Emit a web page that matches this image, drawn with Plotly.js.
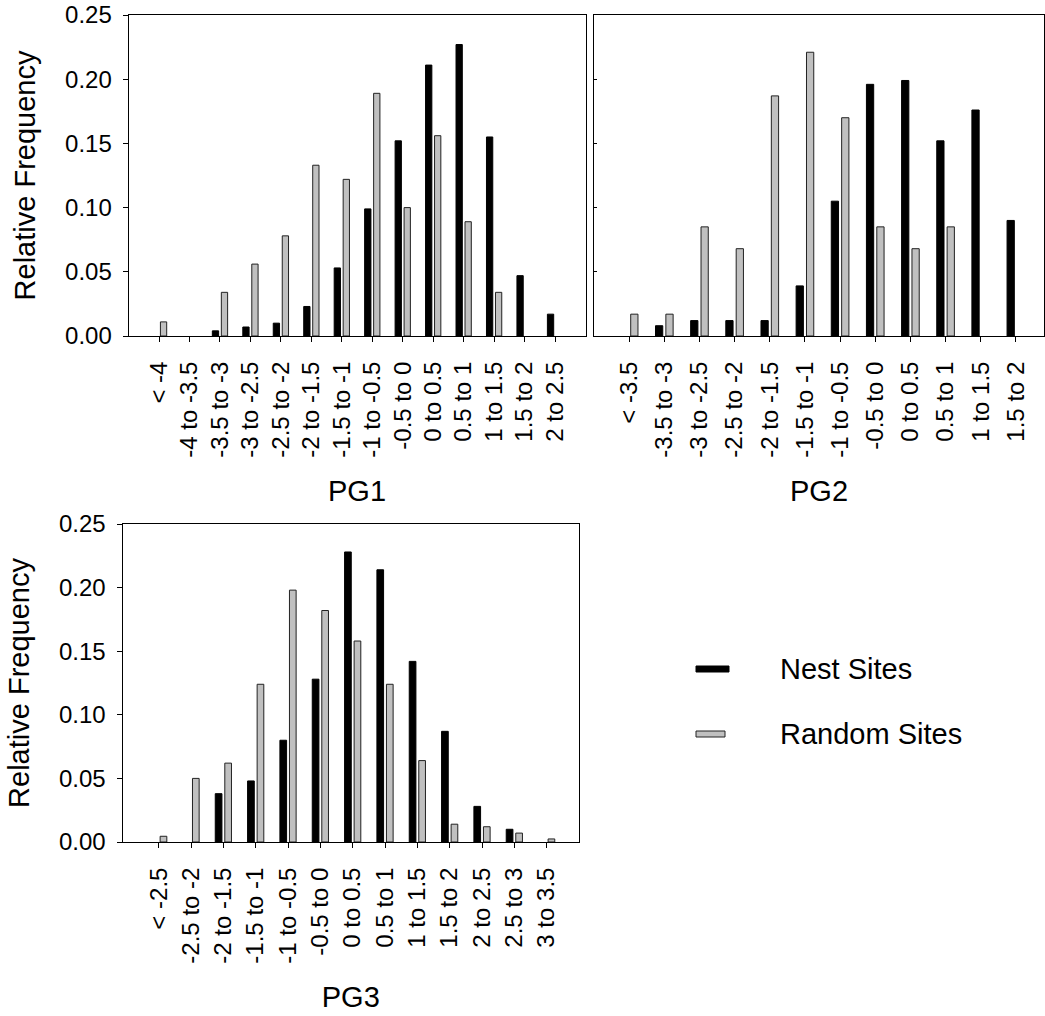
<!DOCTYPE html>
<html>
<head>
<meta charset="utf-8">
<script src="https://cdn.plot.ly/plotly-3.0.1.min.js"></script>
<style>
  html, body { margin: 0; padding: 0; background: #ffffff; }
  #chart { width: 1045px; height: 1016px; }
</style>
</head>
<body>
<div id="chart"></div>
<script>
// ---- data ----
const seriesNames = ['Nest Sites', 'Random Sites'];

const pg1Cats = ['< -4', '-4 to -3.5', '-3.5 to -3', '-3 to -2.5', '-2.5 to -2', '-2 to -1.5', '-1.5 to -1',
                 '-1 to -0.5', '-0.5 to 0', '0 to 0.5', '0.5 to 1', '1 to 1.5', '1.5 to 2', '2 to 2.5'];
const pg1Nest   = [0, 0, 0.004, 0.007, 0.010, 0.023, 0.053, 0.099, 0.152, 0.211, 0.227, 0.155, 0.047, 0.017];
const pg1Random = [0.011, 0, 0.034, 0.056, 0.078, 0.133, 0.122, 0.189, 0.100, 0.156, 0.089, 0.034, 0, 0];

const pg2Cats = ['< -3.5', '-3.5 to -3', '-3 to -2.5', '-2.5 to -2', '-2 to -1.5', '-1.5 to -1',
                 '-1 to -0.5', '-0.5 to 0', '0 to 0.5', '0.5 to 1', '1 to 1.5', '1.5 to 2'];
const pg2Nest   = [0, 0.008, 0.012, 0.012, 0.012, 0.039, 0.105, 0.196, 0.199, 0.152, 0.176, 0.090];
const pg2Random = [0.017, 0.017, 0.085, 0.068, 0.187, 0.221, 0.170, 0.085, 0.068, 0.085, 0, 0];

const pg3Cats = ['< -2.5', '-2.5 to -2', '-2 to -1.5', '-1.5 to -1', '-1 to -0.5', '-0.5 to 0', '0 to 0.5',
                 '0.5 to 1', '1 to 1.5', '1.5 to 2', '2 to 2.5', '2.5 to 3', '3 to 3.5'];
const pg3Nest   = [0, 0, 0.038, 0.048, 0.080, 0.128, 0.228, 0.214, 0.142, 0.087, 0.028, 0.010, 0];
const pg3Random = [0.0045, 0.050, 0.062, 0.124, 0.198, 0.182, 0.158, 0.124, 0.064, 0.014, 0.012, 0.007, 0.0024];

const panelTitles = ['PG1', 'PG2', 'PG3'];
const yTitle = 'Relative Frequency';

// ---- styling ----
const W = 1045, H = 1016;
const FONT = 'Arial, "Liberation Sans", Helvetica, sans-serif';
const NEST_COLOR = '#000000';
const RAND_COLOR = '#c0c0c0';
const px = v => v / W;
const py = v => 1 - v / H;

// no outline on empty bins (nothing is drawn there in the original)
const outline = vals => vals.map(v => (v > 0 ? 1 : 0));

function barPair(cats, nest, rand, xa, ya) {
  return [
    { type: 'bar', x: cats, y: nest, name: seriesNames[0], xaxis: xa, yaxis: ya, showlegend: false,
      marker: { color: NEST_COLOR, line: { color: '#000000', width: outline(nest) } }, hoverinfo: 'x+y' },
    { type: 'bar', x: cats, y: rand, name: seriesNames[1], xaxis: xa, yaxis: ya, showlegend: false,
      marker: { color: RAND_COLOR, line: { color: '#222222', width: outline(rand) } }, hoverinfo: 'x+y' }
  ];
}

const traces = [].concat(
  barPair(pg1Cats, pg1Nest, pg1Random, 'x', 'y'),
  barPair(pg2Cats, pg2Nest, pg2Random, 'x2', 'y2'),
  barPair(pg3Cats, pg3Nest, pg3Random, 'x3', 'y3')
);

const tickFont = { family: FONT, size: 24, color: '#000' };
const titleFont = { family: FONT, size: 29, color: '#000' };

function xAxis(domain, range, anchor, title) {
  return {
    domain: domain, anchor: anchor, type: 'category', range: range,
    showline: true, linecolor: '#000', linewidth: 1, mirror: true,
    ticks: 'outside', ticklen: 5, tickcolor: '#000', tickwidth: 1,
    tickangle: -90, tickfont: tickFont, ticklabelstandoff: 10,
    showgrid: false, zeroline: false, fixedrange: true,
    title: { text: title, font: titleFont, standoff: 24 }
  };
}
function yAxis(domain, anchor, showLabels, title) {
  return {
    domain: domain, anchor: anchor, range: [0, 0.25], dtick: 0.05, tick0: 0, tickformat: '.2f',
    showline: true, linecolor: '#000', linewidth: 1, mirror: true,
    ticks: showLabels ? 'outside' : 'inside', ticklen: showLabels ? 5 : 3, tickcolor: '#000', tickwidth: 1,
    showticklabels: showLabels, tickfont: tickFont, ticklabelstandoff: 6,
    showgrid: false, zeroline: false, fixedrange: true,
    title: title ? { text: title, font: titleFont, standoff: 20 } : { text: '' }
  };
}

const topY = [py(336), py(15)];
const botY = [py(842), py(524)];

const legendRowsY = [669, 734];

const layout = {
  width: W, height: H,
  margin: { l: 0, r: 0, t: 0, b: 0 },
  paper_bgcolor: '#ffffff', plot_bgcolor: '#ffffff',
  font: { family: FONT, color: '#000' },
  barmode: 'group', bargap: 0.41, bargroupgap: 0.3,
  showlegend: false,
  xaxis:  xAxis([px(128.6), px(585.5)], [-1, 14], 'y', panelTitles[0]),
  yaxis:  yAxis(topY, 'x', true, yTitle),
  xaxis2: xAxis([px(594), px(1044)], [-1, 11.8], 'y2', panelTitles[1]),
  yaxis2: yAxis(topY, 'x2', false, ''),
  xaxis3: xAxis([px(122.5), px(579)], [-1.12, 13.0], 'y3', panelTitles[2]),
  yaxis3: yAxis(botY, 'x3', true, yTitle),
  shapes: [
    { type: 'rect', xref: 'paper', yref: 'paper', x0: px(696), x1: px(729), y0: py(672), y1: py(666),
      fillcolor: NEST_COLOR, line: { color: '#000', width: 1 } },
    { type: 'rect', xref: 'paper', yref: 'paper', x0: px(696), x1: px(725), y0: py(737), y1: py(731),
      fillcolor: RAND_COLOR, line: { color: '#222', width: 1 } }
  ],
  annotations: seriesNames.map((n, i) => ({
    xref: 'paper', yref: 'paper', x: px(778), y: py(legendRowsY[i]), xanchor: 'left', yanchor: 'middle',
    text: n, showarrow: false, font: { family: FONT, size: 29, color: '#000' }
  }))
};

Plotly.newPlot('chart', traces, layout, { staticPlot: true, displayModeBar: false });
</script>
</body>
</html>
